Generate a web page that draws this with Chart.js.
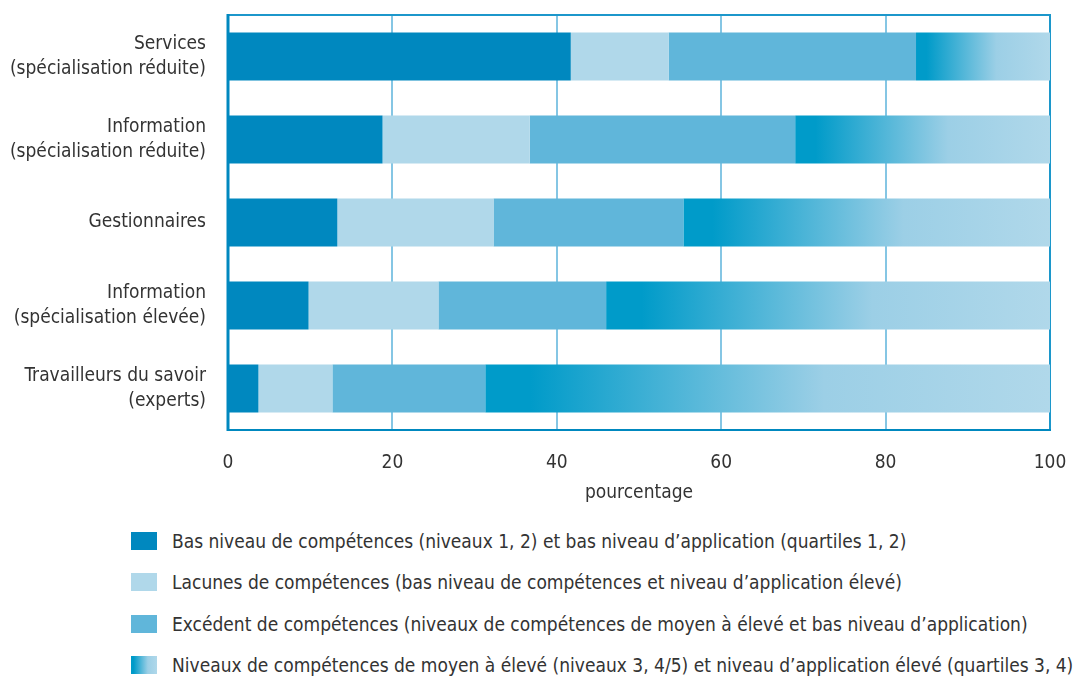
<!DOCTYPE html>
<html lang="fr">
<head>
<meta charset="utf-8">
<script src="https://cdn.jsdelivr.net/npm/chart.js@4"></script>
<style>
  html, body { margin: 0; padding: 0; background: #fff; }
  body {
    width: 1073px; height: 678px; position: relative; overflow: hidden;
    font-family: "DejaVu Sans Condensed", "Liberation Sans Narrow", sans-serif;
    color: #333;
  }
  #wrap { position: absolute; left: 0; top: 0; width: 1073px; height: 510px; }
  #legend { position: absolute; left: 131px; top: 520px; }
  .item { display: flex; align-items: center; height: 41.5px; font-size: 19px; white-space: nowrap; }
  .box { width: 26px; height: 18px; margin-right: 15px; flex: none; }
</style>
</head>
<body>
<div id="wrap"><canvas id="chart"></canvas></div>
<div id="legend"></div>
<script>
const CATEGORIES = [
  ["Services", "(spécialisation réduite)"],
  ["Information", "(spécialisation réduite)"],
  ["Gestionnaires"],
  ["Information", "(spécialisation élevée)"],
  ["Travailleurs du savoir", "(experts)"],
];

const BAS_NIVEAU = [41.7, 18.8, 13.3, 9.8, 3.7];
const LACUNES = [11.9, 17.9, 19.0, 15.8, 9.0];
const EXCEDENT = [30.1, 32.3, 23.1, 20.4, 18.6];
const ELEVE = [16.3, 31.0, 44.6, 54.0, 68.7];

const SERIES_LABELS = [
  "Bas niveau de compétences (niveaux 1, 2) et bas niveau d’application (quartiles 1, 2)",
  "Lacunes de compétences (bas niveau de compétences et niveau d’application élevé)",
  "Excédent de compétences (niveaux de compétences de moyen à élevé et bas niveau d’application)",
  "Niveaux de compétences de moyen à élevé (niveaux 3, 4/5) et niveau d’application élevé (quartiles 3, 4)",
];

const X_TICKS = [0, 20, 40, 60, 80, 100];

const DARK = "#0088bf";
const LIGHT = "#b0d8ea";
const MEDIUM = "#60b6da";
const GRAD_FROM = "#009bc9";
const GRAD_TO = "#b0d8ea";
const GRID = "#85c6e4";
const TEXT = "#333333";

Chart.defaults.font.family = '"DejaVu Sans Condensed", "Liberation Sans Narrow", sans-serif';
Chart.defaults.color = TEXT;

function gradientFill(ctx) {
  const chart = ctx.chart;
  const x = chart.scales.x;
  if (!chart.chartArea || !x || ctx.dataIndex == null) return GRAD_FROM;
  const i = ctx.dataIndex;
  const start = BAS_NIVEAU[i] + LACUNES[i] + EXCEDENT[i];
  const x0 = x.getPixelForValue(start);
  const x1 = x.getPixelForValue(start + ELEVE[i]);
  const g = chart.ctx.createLinearGradient(x0, 0, x1, 0);
  g.addColorStop(0, GRAD_FROM);
  g.addColorStop(0.08, GRAD_FROM);
  g.addColorStop(0.6, "#9ccfe6");
  g.addColorStop(1, GRAD_TO);
  return g;
}

// frame round the plot area, under the bars
const frame = {
  id: "frame",
  beforeDatasetsDraw(chart) {
    const { ctx, chartArea: a } = chart;
    ctx.save();
    ctx.lineWidth = 2;
    ctx.strokeStyle = "#1c97cb";
    ctx.beginPath();
    ctx.moveTo(a.left, a.top);
    ctx.lineTo(a.right, a.top);
    ctx.lineTo(a.right, a.bottom);
    ctx.stroke();
    ctx.strokeStyle = DARK;
    ctx.beginPath();
    ctx.moveTo(a.left, a.bottom);
    ctx.lineTo(a.right + 1, a.bottom);
    ctx.stroke();
    ctx.lineWidth = 3;
    ctx.beginPath();
    ctx.moveTo(a.left, a.top - 1);
    ctx.lineTo(a.left, a.bottom + 1);
    ctx.stroke();
    ctx.restore();
  },
};

const bar = { categoryPercentage: 1, barPercentage: 0.58, borderWidth: 0 };

new Chart(document.getElementById("chart"), {
  type: "bar",
  data: {
    labels: CATEGORIES,
    datasets: [
      { label: SERIES_LABELS[0], data: BAS_NIVEAU, backgroundColor: DARK, ...bar },
      { label: SERIES_LABELS[1], data: LACUNES, backgroundColor: LIGHT, ...bar },
      { label: SERIES_LABELS[2], data: EXCEDENT, backgroundColor: MEDIUM, ...bar },
      { label: SERIES_LABELS[3], data: ELEVE, backgroundColor: gradientFill, ...bar },
    ],
  },
  options: {
    indexAxis: "y",
    responsive: true,
    maintainAspectRatio: false,
    animation: false,
    layout: { autoPadding: false, padding: { left: 0, top: 15, right: 23, bottom: 0 } },
    plugins: { legend: { display: false }, tooltip: { enabled: false } },
    scales: {
      x: {
        stacked: true,
        min: 0,
        max: 100,
        afterFit: (s) => {
          s.height = 80;
          s.paddingLeft = 0;
          s.paddingRight = 0;
        },
        afterBuildTicks: (s) => { s.ticks = X_TICKS.map((v) => ({ value: v })); },
        border: { display: false },
        grid: {
          drawTicks: false,
          lineWidth: 2,
          color: (c) => (c.tick.value === 0 || c.tick.value === 100 ? "rgba(0,0,0,0)" : GRID),
        },
        ticks: { padding: 22, font: { size: 19 }, color: TEXT },
        title: {
          display: true,
          text: "pourcentage",
          font: { size: 19 },
          color: TEXT,
          padding: { top: 0, bottom: 6 },
        },
      },
      y: {
        stacked: true,
        afterFit: (s) => {
          s.width = 228;
          s.paddingTop = 0;
          s.paddingBottom = 0;
        },
        border: { display: false },
        grid: { display: false, drawTicks: false },
        ticks: { padding: 22, font: { size: 19, lineHeight: 1.32 }, color: TEXT },
      },
    },
  },
  plugins: [frame],
});

// legend below the chart
const LEGEND_FILLS = [
  DARK,
  LIGHT,
  MEDIUM,
  `linear-gradient(to right, ${GRAD_FROM} 0%, ${GRAD_FROM} 10%, #9ccfe6 65%, ${GRAD_TO} 100%)`,
];
const legend = document.getElementById("legend");
SERIES_LABELS.forEach((label, i) => {
  const row = document.createElement("div");
  row.className = "item";
  const box = document.createElement("span");
  box.className = "box";
  box.style.background = LEGEND_FILLS[i];
  const txt = document.createElement("span");
  txt.textContent = label;
  row.appendChild(box);
  row.appendChild(txt);
  legend.appendChild(row);
});
</script>
</body>
</html>
